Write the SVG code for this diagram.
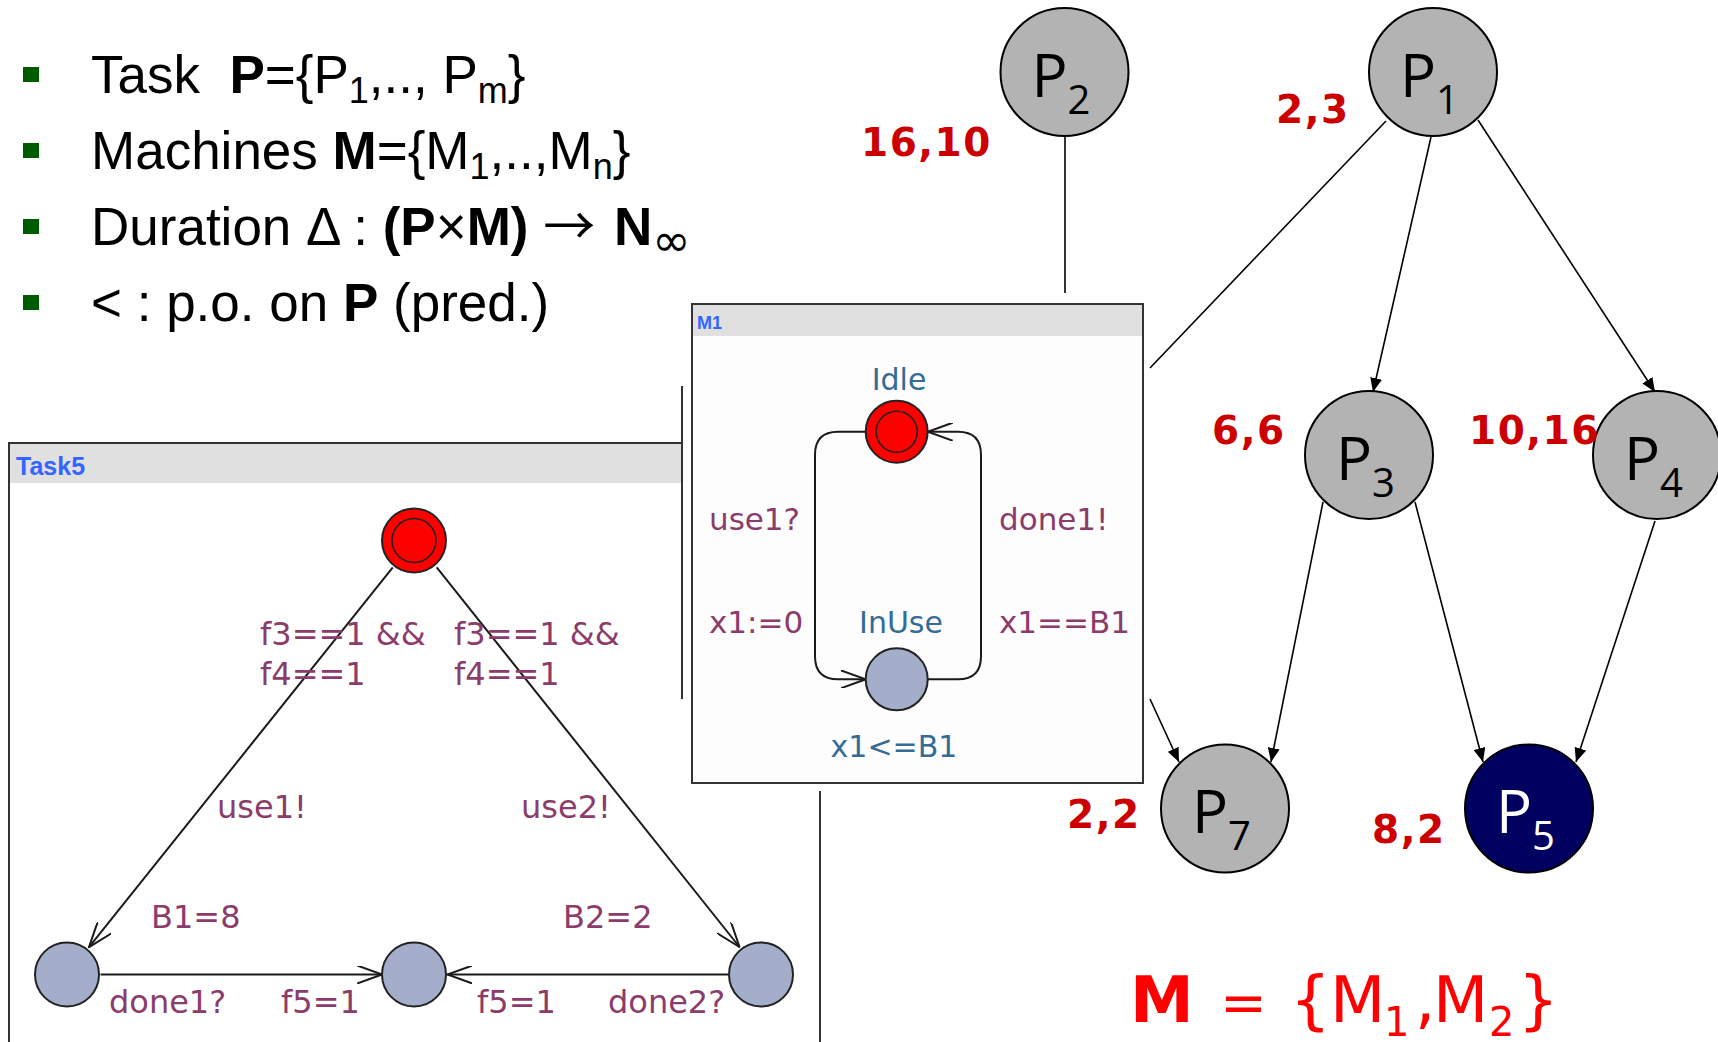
<svg xmlns="http://www.w3.org/2000/svg" width="1718" height="1042" viewBox="0 0 1718 1042">
<defs>
<style>
.bl{font-family:"Liberation Sans",Arial,sans-serif;font-size:53px;fill:#000}
.b{font-weight:bold}
.dv{font-family:"DejaVu Sans",sans-serif;font-weight:normal}
.cj{font-family:"Noto Sans CJK SC","DejaVu Sans",sans-serif;font-weight:normal}
.bullet{fill:#005a00}
.frame{fill:none;stroke:#333;stroke-width:2}
.hdr{fill:#e0e0e0}
.title{font-family:"Liberation Sans",Arial,sans-serif;font-weight:bold;fill:#3366ff}
.lab{font-family:"DejaVu Sans",Verdana,sans-serif;fill:#8b3c6b}
.nm{font-family:"DejaVu Sans",Verdana,sans-serif;fill:#356c96;text-anchor:middle}
.loc{fill:#a4aecb;stroke:#222;stroke-width:2}
.init{fill:#ff0000;stroke:#222;stroke-width:2}
.inner{fill:none;stroke:#222;stroke-width:1.6}
.edge{fill:none;stroke:#1a1a1a;stroke-width:2}
.pn{fill:#b3b3b3;stroke:#000;stroke-width:2}
.pt{font-family:"Open Sans","DejaVu Sans",sans-serif;font-size:60px;fill:#000}
.dep{stroke:#000;stroke-width:1.6;fill:none}
.red{font-family:"DejaVu Sans",Verdana,sans-serif;font-weight:bold;font-size:39px;fill:#cc0000;letter-spacing:1.5px}
.mset{font-family:"DejaVu Sans",Verdana,sans-serif;font-size:64px;fill:#ff0000}
</style>
<marker id="chev" viewBox="0 0 26 18" refX="25" refY="9" markerWidth="26" markerHeight="18" markerUnits="userSpaceOnUse" orient="auto">
<path d="M0,0 L25,9 L0,18" fill="none" stroke="#1a1a1a" stroke-width="2"/>
</marker>
<marker id="tri" viewBox="0 0 14 12" refX="14" refY="6" markerWidth="14" markerHeight="12" markerUnits="userSpaceOnUse" orient="auto">
<path d="M0,0 L14,6 L0,12 z" fill="#000"/>
</marker>
</defs>
<rect width="1718" height="1042" fill="#fff"/>

<g id="bullets">
<rect class="bullet" x="23" y="67" width="16" height="15"/>
<rect class="bullet" x="23" y="143" width="16" height="15"/>
<rect class="bullet" x="23" y="219" width="16" height="15"/>
<rect class="bullet" x="23" y="295" width="16" height="15"/>
<text class="bl" x="91" y="93" xml:space="preserve">Task  <tspan class="b">P</tspan>={P<tspan font-size="36" dy="10">1</tspan><tspan dy="-10">,.., P</tspan><tspan font-size="36" dy="10">m</tspan><tspan dy="-10">}</tspan></text>
<text class="bl" x="91" y="169" xml:space="preserve">Machines <tspan class="b">M</tspan>={M<tspan font-size="36" dy="10">1</tspan><tspan dy="-10">,..,M</tspan><tspan font-size="36" dy="10">n</tspan><tspan dy="-10">}</tspan></text>
<text class="bl" x="91" y="245" xml:space="preserve">Duration Δ : <tspan class="b">(P</tspan>×<tspan class="b">M)</tspan> <tspan class="cj" font-size="52">→</tspan> <tspan class="b" dx="4">N</tspan><tspan class="dv" font-size="46" dy="11">∞</tspan></text>
<text class="bl" x="91" y="321" xml:space="preserve">&lt; : p.o. on <tspan class="b">P</tspan> (pred.)</text>
</g>

<g id="task5">
<rect x="9" y="443" width="673" height="40" class="hdr"/>
<path class="frame" d="M9,1044 V443 H682"/>
<path class="frame" d="M820,791 V1044"/>
<path class="frame" d="M682,386 V699"/>
<text class="title" x="16" y="475" font-size="25">Task5</text>
</g>

<g id="task5-edges">
<line class="edge" x1="392.8" y1="567.4" x2="89" y2="947.2" marker-end="url(#chev)"/>
<line class="edge" x1="436.7" y1="567.4" x2="739.5" y2="947" marker-end="url(#chev)"/>
<line class="edge" x1="100.6" y1="974.5" x2="382.2" y2="974.5" marker-end="url(#chev)"/>
<line class="edge" x1="728" y1="974.5" x2="447.3" y2="974.5" marker-end="url(#chev)"/>
<text class="lab" font-size="32"><tspan x="260" y="645">f3==1 &amp;&amp;</tspan><tspan x="260" y="685">f4==1</tspan></text>
<text class="lab" font-size="32"><tspan x="454" y="645">f3==1 &amp;&amp;</tspan><tspan x="454" y="685">f4==1</tspan></text>
<text class="lab" font-size="32" x="217" y="818">use1!</text>
<text class="lab" font-size="32" x="521" y="818">use2!</text>
<text class="lab" font-size="32" x="151" y="928">B1=8</text>
<text class="lab" font-size="32" x="563" y="928">B2=2</text>
<text class="lab" font-size="32" x="109" y="1013">done1?</text>
<text class="lab" font-size="32" x="281" y="1013">f5=1</text>
<text class="lab" font-size="32" x="477" y="1013">f5=1</text>
<text class="lab" font-size="32" x="608" y="1013">done2?</text>
</g>

<g id="t5-init"><circle class="init" cx="414" cy="540.5" r="32"/><circle class="inner" cx="414" cy="540.5" r="22"/></g>
<g id="t5-left"><circle class="loc" cx="67" cy="974.5" r="32"/></g>
<g id="t5-mid"><circle class="loc" cx="414" cy="974.5" r="32"/></g>
<g id="t5-right"><circle class="loc" cx="761" cy="974.5" r="32"/></g>

<g id="m1">
<rect x="692" y="304" width="451" height="479" fill="#fdfdfd"/>
<rect x="692" y="304" width="451" height="32" class="hdr"/>
<rect x="692" y="304" width="451" height="479" class="frame"/>
<text class="title" x="697" y="329" font-size="18">M1</text>
</g>

<g id="m1-edges">
<path class="edge" d="M865.7,431.7 H838 Q815,431.7 815,454.7 V656.3 Q815,679.3 838,679.3 H865.7" marker-end="url(#chev)"/>
<path class="edge" d="M927.7,679.3 H958 Q981,679.3 981,656.3 V454.7 Q981,431.7 958,431.7 H927.7" marker-end="url(#chev)"/>
<text class="lab" font-size="31" x="709" y="530">use1?</text>
<text class="lab" font-size="31" x="709" y="633">x1:=0</text>
<text class="lab" font-size="31" x="999" y="530">done1!</text>
<text class="lab" font-size="31" x="999" y="633">x1==B1</text>
</g>

<g id="m1-idle"><circle class="init" cx="896.7" cy="431.7" r="31"/><circle class="inner" cx="896.7" cy="431.7" r="20.5"/><text class="nm" font-size="30" x="899" y="390">Idle</text></g>
<g id="m1-inuse"><circle class="loc" cx="896.7" cy="679.3" r="31"/><text class="nm" font-size="30" x="901" y="633">InUse</text><text class="nm" font-size="30" x="894" y="757">x1&lt;=B1</text></g>

<g id="dependencies">
<line class="dep" x1="1065" y1="136" x2="1065" y2="293"/>
<line class="dep" x1="1386" y1="121" x2="1150" y2="368"/>
<line class="dep" x1="1150" y1="699" x2="1179" y2="762" marker-end="url(#tri)"/>
<line class="dep" x1="1431" y1="137" x2="1373" y2="392" marker-end="url(#tri)"/>
<line class="dep" x1="1478" y1="120" x2="1655" y2="392" marker-end="url(#tri)"/>
<line class="dep" x1="1323" y1="502" x2="1271" y2="762" marker-end="url(#tri)"/>
<line class="dep" x1="1415" y1="502" x2="1483" y2="762" marker-end="url(#tri)"/>
<line class="dep" x1="1655" y1="521" x2="1576" y2="762" marker-end="url(#tri)"/>
</g>

<g id="P2"><circle class="pn" cx="1064.5" cy="72" r="64"/><text class="pt" x="1031.5" y="97">P<tspan font-size="40" dy="17">2</tspan></text><text class="red" x="861" y="156">16,10</text></g>
<g id="P1"><circle class="pn" cx="1433" cy="72" r="64"/><text class="pt" x="1400" y="97">P<tspan font-size="40" dy="17">1</tspan></text><text class="red" x="1276" y="123">2,3</text></g>
<g id="P3"><circle class="pn" cx="1369" cy="455" r="64"/><text class="pt" x="1336" y="480">P<tspan font-size="40" dy="17">3</tspan></text><text class="red" x="1212" y="444">6,6</text></g>
<g id="P4"><circle class="pn" cx="1657" cy="455" r="64"/><text class="red" x="1469" y="444">10,16</text><text class="pt" x="1624" y="480">P<tspan font-size="40" dy="17">4</tspan></text></g>
<g id="P7"><circle class="pn" cx="1225" cy="808.5" r="64"/><text class="pt" x="1192" y="833">P<tspan font-size="40" dy="17">7</tspan></text><text class="red" x="1067" y="828">2,2</text></g>
<g id="P5"><circle cx="1529" cy="808.5" r="64" fill="#000060" stroke="#000" stroke-width="2"/><text class="pt" x="1496" y="833" style="fill:#fff">P<tspan font-size="40" dy="17">5</tspan></text><text class="red" x="1372" y="843">8,2</text></g>

<g id="machine-set">
<text class="mset"><tspan x="1130" y="1022" font-weight="bold">M</tspan><tspan x="1220" y="1022" font-size="56">=</tspan><tspan x="1290" y="1022">{</tspan><tspan x="1330" y="1022">M</tspan><tspan x="1384" y="1036" font-size="40">1</tspan><tspan x="1415" y="1022">,</tspan><tspan x="1433" y="1022">M</tspan><tspan x="1489" y="1036" font-size="40">2</tspan><tspan x="1518" y="1022">}</tspan></text>
</g>
</svg>
